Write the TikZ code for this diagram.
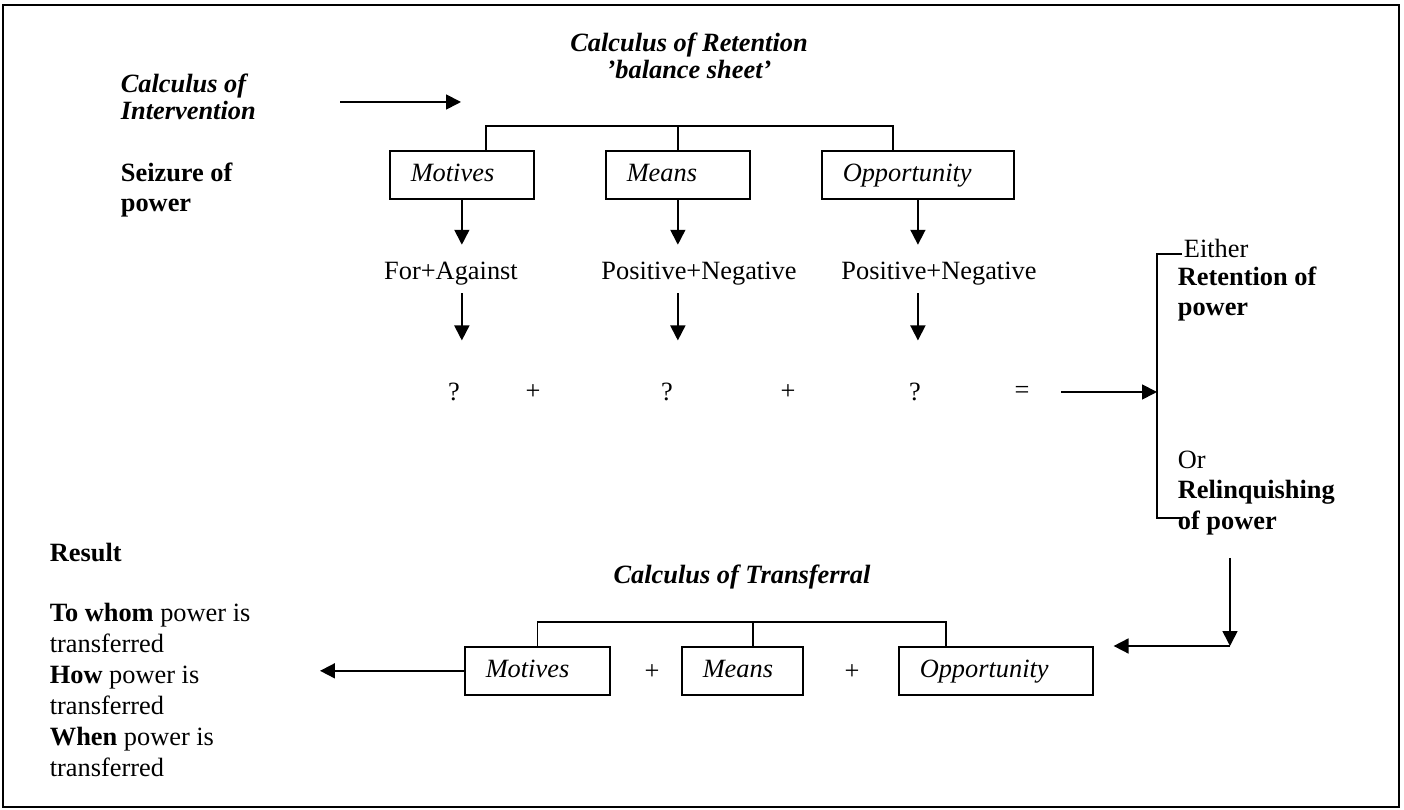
\documentclass[tikz,border=0pt]{standalone}
\usepackage{fontspec}
\setmainfont{Liberation Serif}
\usetikzlibrary{arrows.meta}

\tikzset{
  txt/.style={inner sep=0pt, font=\fontsize{12}{13.8}\selectfont, align=left},
  bld/.style={inner sep=0pt, font=\fontsize{12}{13.8}\selectfont\bfseries, align=left},
  ttl/.style={inner sep=0pt, font=\fontsize{12}{12.5}\selectfont\bfseries\itshape, align=center},
  cbox/.style={draw, font=\fontsize{12}{13.8}\selectfont\itshape, minimum height=21.8pt,
    inner xsep=9.5pt, inner ysep=0pt, text height=8.5pt, text depth=2.5pt,
    text width=#1, align=left, anchor=north west},
}

\begin{document}
\begin{tikzpicture}[x=0.455pt, y=-0.455pt, >={Triangle[length=6.8pt,width=6.8pt]}, thick]
\useasboundingbox (0,0) rectangle (1404,810);
\draw (3,5) rectangle (1399,807);

\node[ttl] (ret) at (689,56) {Calculus of Retention\\’balance sheet’};
\node[ttl, align=left, anchor=west] (inter) at (120,97) {Calculus of\\Intervention};
\node[bld, anchor=west] (seize) at (120,190) {Seizure of\\power};
\coordinate (inA) at (340,102);
\coordinate (inB) at (461,102);
\draw[->] (inA) -- (inB);

\node[cbox=46.5pt] (mot) at (389,150) {Motives};
\node[cbox=46.5pt] (mea) at (605,150) {Means};
\node[cbox=68.4pt] (opp) at (821,150) {Opportunity};
\coordinate (brL) at (486,126);
\coordinate (brR) at (893,126);
\draw (brL |- mot.north) -- (brL) -- (brR) -- (brR |- opp.north);
\draw (mea.north) -- (mea.north |- brL);

\node[txt, anchor=base] (fa) at (451,280) {For+Against};
\node[txt, anchor=base] (pn1) at (699,280) {Positive+Negative};
\node[txt, anchor=base] (pn2) at (939,280) {Positive+Negative};

\node[txt] (q1) at (454,392) {?};
\node[txt] (pl1) at (533,392) {+};
\node[txt] (q2) at (667,392) {?};
\node[txt] (pl2) at (788,392) {+};
\node[txt] (q3) at (915,392) {?};
\node[txt] (eq) at (1022,392) {=};

\foreach \b/\t/\q in {mot/fa/q1, mea/pn1/q2, opp/pn2/q3}{
  \draw[->, shorten >=7.7pt] (\b.south) -- (\b.south |- \t.north);
  \draw[->, shorten <=3pt, shorten >=19pt] (\b.south |- \t.south) -- (\b.south |- \q.north);
}

\coordinate (brT) at (1157,254);
\coordinate (brB) at (1157,518);
\draw ([xshift=11.4pt]brT) -- (brT) -- (brB) -- ([xshift=11.4pt]brB);
\draw[->, shorten <=14pt] (eq.east) -- (eq.east -| brT);

\node[txt, anchor=west] (either) at (1183,248) {Either};
\node[bld, anchor=west] (keep) at (1177,294) {Retention of\\power};
\node[txt, anchor=west] (drop) at (1177,493) {Or\\\textbf{Relinquishing}\\\textbf{of power}};

\coordinate (rdA) at (1230,558);
\coordinate (rdB) at (1230,646);
\draw[->] (rdA) -- (rdB);

\node[ttl] (trans) at (742,577) {Calculus of Transferral};
\node[cbox=47pt] (mot2) at (464,646) {Motives};
\node[cbox=36.1pt] (mea2) at (681,646) {Means};
\node[cbox=69.3pt] (opp2) at (898,646) {Opportunity};
\node[txt] (pl3) at (652,672) {+};
\node[txt] (pl4) at (852,672) {+};
\coordinate (tM) at (753,622);
\coordinate (tR) at (946,622);
\draw (mot2.north) -- (mot2.north |- tM) -- (tR) -- (tR |- opp2.north);
\draw (tM) -- (tM |- mea2.north);
\draw[->, shorten >=9pt] (rdB) -- (opp2.north east);
\coordinate (outL) at (320,670);
\draw[->] (mot2.west) -- (mot2.west -| outL);

\node[bld, anchor=west] (res) at (49,553) {Result};
\node[txt, anchor=west, font=\fontsize{12}{14.1}\selectfont] (how) at (49,690)
  {\textbf{To whom} power is\\transferred\\\textbf{How} power is\\transferred\\\textbf{When} power is\\transferred};
\end{tikzpicture}
\end{document}
